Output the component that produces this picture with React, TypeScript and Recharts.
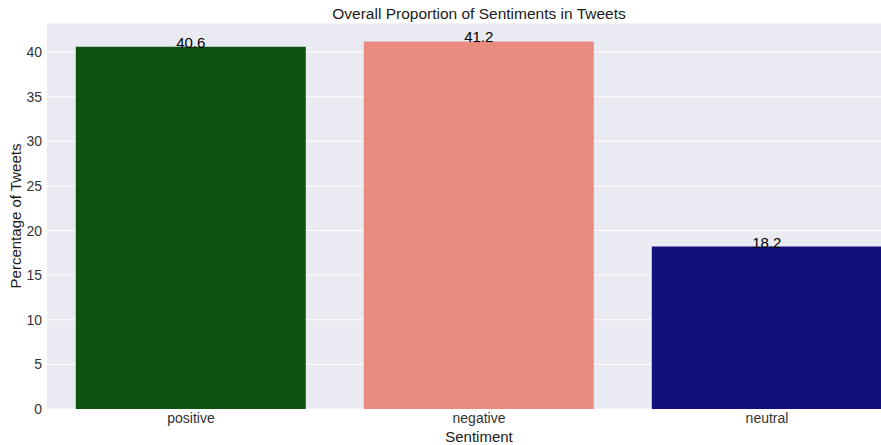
import { BarChart, Bar, XAxis, YAxis, CartesianGrid, Cell, LabelList } from 'recharts'

const sentiments = ['positive', 'negative', 'neutral']
const percentages = [40.6, 41.2, 18.2]
const barColors = ['#0e540e', '#e88c80', '#12107a']
const yTicks = [0, 5, 10, 15, 20, 25, 30, 35, 40]

const data = sentiments.map((s, i) => ({ sentiment: s, pct: percentages[i] }))

const font = '"Liberation Sans", Arial, sans-serif'

export default function App() {
  return (
    <div
      style={{
        position: 'absolute',
        left: 0,
        top: 0,
        width: 881,
        height: 445,
        overflow: 'hidden',
        background: '#fff',
        fontFamily: font,
      }}
    >
      <div
        style={{
          position: 'absolute',
          left: 279,
          width: 400,
          top: 5,
          textAlign: 'center',
          fontSize: 15.5,
          lineHeight: '18px',
          color: '#1a1a1a',
        }}
      >
        Overall Proportion of Sentiments in Tweets
      </div>
      <BarChart
        width={911}
        height={445}
        data={data}
        margin={{ top: 23, right: 0, bottom: 0, left: 0 }}
        barCategoryGap="10%"
      >
        <CartesianGrid fill="#eaeaf2" fillOpacity={1} stroke="#ffffff" strokeWidth={1} vertical={false} />
        <XAxis
          dataKey="sentiment"
          height={36}
          tickLine={false}
          axisLine={false}
          tickSize={0}
          tickMargin={4}
          tick={{ fill: '#333', fontSize: 14, fontFamily: font }}
          label={{ value: 'Sentiment', position: 'insideBottom', offset: 3, fill: '#1a1a1a', fontSize: 15, fontFamily: font }}
        />
        <YAxis
          width={47}
          domain={[0, 43.26]}
          ticks={yTicks}
          tickLine={false}
          axisLine={false}
          tickSize={0}
          tickMargin={5}
          tick={{ fill: '#333', fontSize: 14, fontFamily: font }}
          label={{ value: 'Percentage of Tweets', angle: -90, position: 'insideLeft', offset: 16, fill: '#1a1a1a', fontSize: 15, fontFamily: font, style: { textAnchor: 'middle' } }}
        />
        <Bar dataKey="pct" isAnimationActive={false}>
          {data.map((d, i) => (
            <Cell key={d.sentiment} fill={barColors[i]} />
          ))}
          <LabelList dataKey="pct" position="top" offset={-1} fill="#000" fontSize={15} fontFamily={font} />
        </Bar>
      </BarChart>
    </div>
  )
}
